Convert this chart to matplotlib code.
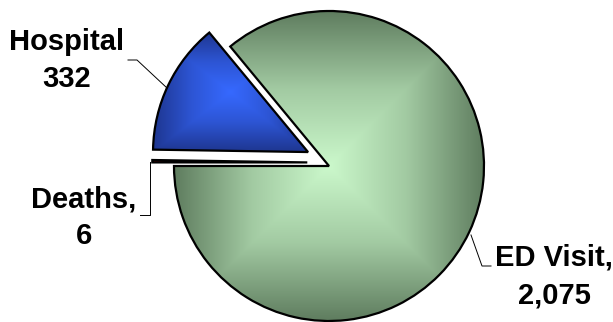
import numpy as np
import matplotlib
matplotlib.use("Agg")
import matplotlib.pyplot as plt
from matplotlib.colors import LinearSegmentedColormap

# data
names = ["ED Visit,", "Hospital", "Deaths,"]
counts = [2075, 332, 6]
count_labels = ["2,075", "332", "6"]

# fill ramps, centre -> edge
ramps = [
    ["#cbf8cb", "#a2caa2", "#5f7d5f"],
    ["#3669ff", "#2d55d4", "#1e3690"],
    ["#c00000", "#800000", "#100000"],
]

W, H = 613, 322
CX, CY, R = 329, 166, 155   # pie centre / radius in pixels


def px(x, y):
    """pixel position (from top-left) -> data coords of the pie axes"""
    return (x - CX) / R, (CY - y) / R


fig = plt.figure(figsize=(W / 100, H / 100), dpi=100)
ax = fig.add_axes([0, 0, 1, 1])
plt.rcParams["font.family"] = ["Liberation Sans", "DejaVu Sans"]

wedges, _ = ax.pie(counts, startangle=180, counterclock=True,
                   explode=[0, 0.15, 0.14],
                   wedgeprops=dict(facecolor="none", edgecolor="black",
                                   linewidth=1.6, zorder=3))
# nudge the exploded slices up a little, as in the original
for w, dy in ((wedges[1], 0.025), (wedges[2], 0.022)):
    cx, cy = w.center
    w.set_center((cx, cy + dy))

for i, w in enumerate(wedges):
    ext = w.get_path().get_extents()
    g = np.linspace(-1, 1, 400)
    u, v = np.meshgrid(g, g)
    if i == 2:
        t = (u + 1) / 2          # deaths: red fading to black left -> right
    else:
        t = np.maximum(np.abs(u), np.abs(v))
    cmap = LinearSegmentedColormap.from_list(f"r{i}", ramps[i])
    im = ax.imshow(t, cmap=cmap, vmin=0, vmax=1, origin="lower",
                   extent=(ext.x0, ext.x1, ext.y0, ext.y1),
                   interpolation="bilinear", aspect="auto", zorder=2)
    im.set_clip_path(w)

# labels and leader lines
txt = dict(ha="center", va="top", fontsize=21, fontweight="bold",
           linespacing=1.42, color="black", zorder=5)
label_pos = [(554, 244), (67, 28), (84, 185)]
leaders = [
    [(491, 266), (482, 266), (471, 235)],
    [(128, 60), (137, 60), (167, 88)],
    [(140, 215), (150, 215), (150, 162)],
]
for i in range(len(names)):
    ax.text(*px(*label_pos[i]), f"{names[i]}\n{count_labels[i]}", **txt)
    pts = np.array([px(*p) for p in leaders[i]])
    ax.plot(pts[:, 0], pts[:, 1], color="black", linewidth=0.7, zorder=4)

ax.set_aspect("auto")
ax.set_xlim(-CX / R, (W - CX) / R)
ax.set_ylim(-(H - CY) / R, CY / R)
ax.axis("off")

fig.savefig("out.png", dpi=100, facecolor="white")
